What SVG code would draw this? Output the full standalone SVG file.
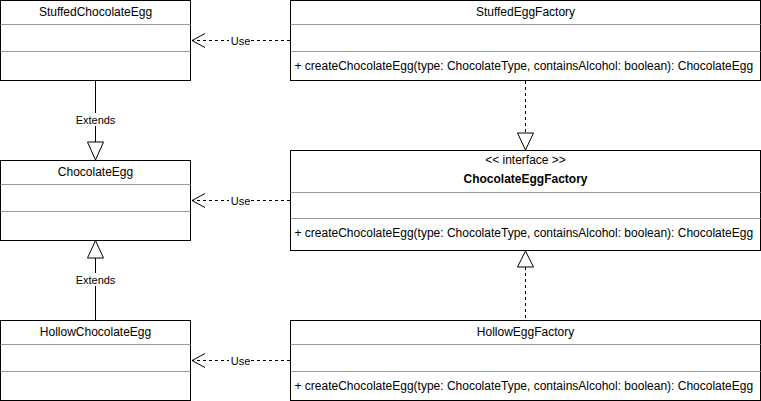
<svg xmlns="http://www.w3.org/2000/svg" width="761" height="401" viewBox="0 0 761 401">
<style>
.box{fill:#fff;stroke:#000;stroke-width:1}
.sep{stroke:#999;stroke-width:1}
text{font-family:"Liberation Sans",Arial,Helvetica,sans-serif;font-size:12px;fill:#000}
.c{text-anchor:middle}
.b{font-weight:bold}
.s{font-size:11px}
.dash{fill:none;stroke:#000;stroke-dasharray:3 3}
.solid{fill:none;stroke:#000}
.tri{fill:#fff;stroke:#000}
.lbl{fill:#fff}
</style>
<rect width="761" height="401" fill="#fff"/>
<g id="StuffedChocolateEgg">
<rect class="box" x="0.5" y="0.5" width="190" height="80"/>
<line class="sep" x1="0.5" y1="24.5" x2="190.5" y2="24.5"/>
<line class="sep" x1="0.5" y1="51.5" x2="190.5" y2="51.5"/>
<text class="c" x="95.5" y="16">StuffedChocolateEgg</text>
</g>
<g id="ChocolateEgg">
<rect class="box" x="0.5" y="160.5" width="190" height="80"/>
<line class="sep" x1="0.5" y1="184.5" x2="190.5" y2="184.5"/>
<line class="sep" x1="0.5" y1="211.5" x2="190.5" y2="211.5"/>
<text class="c" x="95.5" y="176">ChocolateEgg</text>
</g>
<g id="HollowChocolateEgg">
<rect class="box" x="0.5" y="320.5" width="190" height="80"/>
<line class="sep" x1="0.5" y1="344.5" x2="190.5" y2="344.5"/>
<line class="sep" x1="0.5" y1="371.5" x2="190.5" y2="371.5"/>
<text class="c" x="95.5" y="336">HollowChocolateEgg</text>
</g>
<g id="StuffedEggFactory">
<rect class="box" x="290.5" y="0.5" width="470" height="80"/>
<line class="sep" x1="290.5" y1="24.5" x2="760.5" y2="24.5"/>
<line class="sep" x1="290.5" y1="51.5" x2="760.5" y2="51.5"/>
<text class="c" x="525.5" y="16">StuffedEggFactory</text>
<text x="294.5" y="70">+ createChocolateEgg(type: ChocolateType, containsAlcohol: boolean): ChocolateEgg</text>
</g>
<g id="ChocolateEggFactory">
<rect class="box" x="290.5" y="150.5" width="470" height="100"/>
<line class="sep" x1="290.5" y1="192.5" x2="760.5" y2="192.5"/>
<line class="sep" x1="290.5" y1="218.5" x2="760.5" y2="218.5"/>
<text class="c" x="525.5" y="164">&lt;&lt; interface &gt;&gt;</text>
<text class="c b" x="525.5" y="183">ChocolateEggFactory</text>
<text x="294.5" y="237">+ createChocolateEgg(type: ChocolateType, containsAlcohol: boolean): ChocolateEgg</text>
</g>
<g id="HollowEggFactory">
<rect class="box" x="290.5" y="320.5" width="470" height="80"/>
<line class="sep" x1="290.5" y1="344.5" x2="760.5" y2="344.5"/>
<line class="sep" x1="290.5" y1="371.5" x2="760.5" y2="371.5"/>
<text class="c" x="525.5" y="336">HollowEggFactory</text>
<text x="294.5" y="390">+ createChocolateEgg(type: ChocolateType, containsAlcohol: boolean): ChocolateEgg</text>
</g>
<g id="connectors">
<line class="dash" x1="290" y1="40.5" x2="192" y2="40.5"/>
<polyline class="solid" points="205,33.5 192,40.5 205,47.5"/>
<rect class="lbl" x="229" y="34" width="22" height="13"/>
<text class="c s" x="240.5" y="44.5">Use</text>
<line class="dash" x1="290" y1="200.5" x2="192" y2="200.5"/>
<polyline class="solid" points="205,193.5 192,200.5 205,207.5"/>
<rect class="lbl" x="229" y="194" width="22" height="13"/>
<text class="c s" x="240.5" y="204.5">Use</text>
<line class="dash" x1="290" y1="360.5" x2="192" y2="360.5"/>
<polyline class="solid" points="205,353.5 192,360.5 205,367.5"/>
<rect class="lbl" x="229" y="354" width="22" height="13"/>
<text class="c s" x="240.5" y="364.5">Use</text>
<line class="solid" x1="95.5" y1="80.5" x2="95.5" y2="142"/>
<polygon class="tri" points="87.5,142 103.5,142 95.5,160"/>
<rect class="lbl" x="75" y="113" width="41" height="13"/>
<text class="c s" x="95.5" y="124">Extends</text>
<line class="solid" x1="95.5" y1="258" x2="95.5" y2="320"/>
<polygon class="tri" points="87.5,258 103.5,258 95.5,240.5"/>
<rect class="lbl" x="75" y="273" width="41" height="13"/>
<text class="c s" x="95.5" y="284">Extends</text>
<line class="dash" x1="525.5" y1="81" x2="525.5" y2="133"/>
<polygon class="tri" points="517.5,133 533.5,133 525.5,150"/>
<line class="dash" x1="525.5" y1="267" x2="525.5" y2="320"/>
<polygon class="tri" points="517.5,267 533.5,267 525.5,251"/>
</g>
</svg>
